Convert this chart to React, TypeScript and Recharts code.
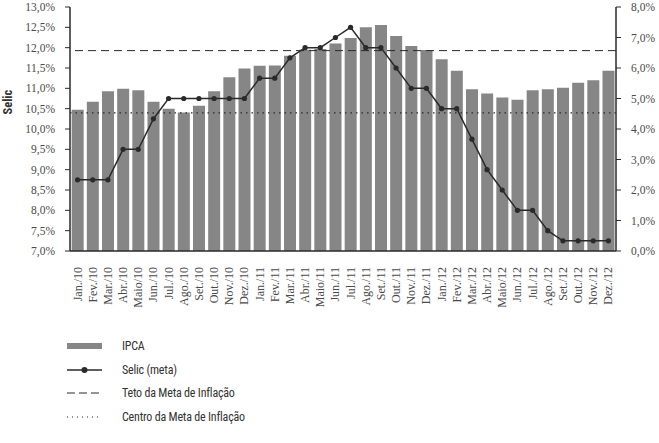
import React from 'react';
import {
  ComposedChart, Bar, Line, XAxis, YAxis, ReferenceLine, Label,
} from 'recharts';

const meses = [
  'Jan./10', 'Fev./10', 'Mar./10', 'Abr./10', 'Maio/10', 'Jun./10', 'Jul./10', 'Ago./10', 'Set./10', 'Out./10', 'Nov./10', 'Dez./10',
  'Jan./11', 'Fev./11', 'Mar./11', 'Abr./11', 'Maio/11', 'Jun./11', 'Jul./11', 'Ago./11', 'Set./11', 'Out./11', 'Nov./11', 'Dez./11',
  'Jan./12', 'Fev./12', 'Mar./12', 'Abr./12', 'Maio/12', 'Jun./12', 'Jul./12', 'Ago./12', 'Set./12', 'Out./12', 'Nov./12', 'Dez./12',
];

// IPCA acumulado 12 meses (%), eixo direito
const ipca = [
  4.63, 4.89, 5.24, 5.32, 5.27, 4.89, 4.66, 4.54, 4.76, 5.24, 5.70, 5.98,
  6.07, 6.08, 6.40, 6.60, 6.62, 6.80, 6.98, 7.34, 7.41, 7.05, 6.72, 6.59,
  6.29, 5.91, 5.30, 5.16, 5.03, 4.96, 5.27, 5.30, 5.35, 5.52, 5.60, 5.91,
];

// Selic meta (%), eixo esquerdo
const selic = [
  8.75, 8.75, 8.75, 9.5, 9.5, 10.25, 10.75, 10.75, 10.75, 10.75, 10.75, 10.75,
  11.25, 11.25, 11.75, 12, 12, 12.25, 12.5, 12, 12, 11.5, 11, 11,
  10.5, 10.5, 9.75, 9, 8.5, 8, 8, 7.5, 7.25, 7.25, 7.25, 7.25,
];

// metas de inflação, lidas no eixo direito
const tetoMeta = 6.57;
const centroMeta = 4.53;

const selicTicks = [7, 7.5, 8, 8.5, 9, 9.5, 10, 10.5, 11, 11.5, 12, 12.5, 13];
const ipcaTicks = [0, 1, 2, 3, 4, 5, 6, 7, 8];

const data = meses.map((mes, i) => ({ mes, ipca: ipca[i], selic: selic[i] }));

const SERIF = "Liberation Serif, Times New Roman, DejaVu Serif, serif";
const NARROW = "Liberation Sans Narrow, Arial Narrow, Roboto Condensed, Roboto, sans-serif";
const BAR = '#868686';
const INK = '#2a2a2a';
const TXT = '#4a4a4a';

const pct = (v: number) => v.toFixed(1).replace('.', ',') + '%';

const MesTick = ({ x, y, payload }: any) => (
  <g transform={`translate(${x},${y})`}>
    <text transform="rotate(-90)" textAnchor="end" x={-8} dy={4}
      style={{ fontFamily: SERIF, fontSize: 12 }} fill={TXT}>
      {payload.value}
    </text>
  </g>
);

const PctTick = ({ x, y, payload, anchor }: any) => (
  <text x={x} y={y} dy={4} textAnchor={anchor}
    style={{ fontFamily: SERIF, fontSize: 11.5 }} fill={TXT}>
    {pct(payload.value)}
  </text>
);

const legendItems = [
  { key: 'bar', label: 'IPCA' },
  { key: 'line', label: 'Selic (meta)' },
  { key: 'dash', label: 'Teto da Meta de Inflação' },
  { key: 'dot', label: 'Centro da Meta de Inflação' },
];

function Swatch({ kind }: { kind: string }) {
  return (
    <svg width={36} height={12} style={{ display: 'block' }}>
      {kind === 'bar' && <rect x={0} y={3} width={35} height={6} fill={BAR} />}
      {kind === 'line' && (
        <g>
          <line x1={0} x2={35} y1={6} y2={6} stroke={INK} strokeWidth={1.5} />
          <circle cx={17.5} cy={6} r={3} fill={INK} />
        </g>
      )}
      {kind === 'dash' && <line x1={0} x2={35} y1={6} y2={6} stroke={INK} strokeWidth={1} strokeDasharray="8 4" />}
      {kind === 'dot' && <line x1={0} x2={35} y1={6} y2={6} stroke={INK} strokeWidth={1} strokeDasharray="1 4" />}
    </svg>
  );
}

export default function App() {
  return (
    <div style={{ position: 'absolute', left: 0, top: 0, width: 659, height: 443, background: '#fff' }}>
      <ComposedChart width={659} height={443} data={data}
        margin={{ top: 7, right: 0, left: 0, bottom: 122 }} barCategoryGap="11%">
        <XAxis dataKey="mes" interval={0} height={70}
          tick={<MesTick />} tickLine={false}
          axisLine={{ stroke: INK, strokeWidth: 1.5 }} />
        <YAxis yAxisId="selic" orientation="left" width={70}
          domain={[7, 13]} ticks={selicTicks} interval={0}
          tick={<PctTick anchor="end" />}
          tickSize={5} tickMargin={10}
          tickLine={{ stroke: INK }} axisLine={{ stroke: INK, strokeWidth: 1.5 }}>
          <Label content={({ viewBox }: any) => {
            const lx = viewBox.x + 12;
            const ly = viewBox.y + viewBox.height * 0.39;
            return (
              <text x={lx} y={ly} transform={`rotate(-90, ${lx}, ${ly})`}
                textAnchor="middle" fontWeight="bold" fill="#333"
                style={{ fontFamily: NARROW, fontSize: 12.5 }}>
                Selic
              </text>
            );
          }} />
        </YAxis>
        <YAxis yAxisId="ipca" orientation="right" width={43}
          domain={[0, 8]} ticks={ipcaTicks} interval={0}
          tick={<PctTick anchor="start" />}
          tickSize={5} tickMargin={10}
          tickLine={{ stroke: INK }} axisLine={{ stroke: INK, strokeWidth: 1.5 }} />
        <Bar yAxisId="ipca" dataKey="ipca" fill={BAR} isAnimationActive={false} />
        <ReferenceLine yAxisId="ipca" y={tetoMeta} stroke={INK} strokeWidth={1} strokeDasharray="8 5" />
        <ReferenceLine yAxisId="ipca" y={centroMeta} stroke={INK} strokeWidth={1.2} strokeDasharray="1.5 4" />
        <Line yAxisId="selic" dataKey="selic" type="linear" stroke={INK} strokeWidth={1.5}
          dot={{ r: 2.6, fill: INK, stroke: INK, strokeWidth: 0 }} isAnimationActive={false} />
      </ComposedChart>

      <div style={{ position: 'absolute', left: 67, top: 334, fontFamily: NARROW, fontSize: 12, letterSpacing: -0.2, color: '#333' }}>
        {legendItems.map(it => (
          <div key={it.key} style={{ display: 'flex', alignItems: 'center', height: 23.7 }}>
            <Swatch kind={it.key} />
            <span style={{ marginLeft: 19 }}>{it.label}</span>
          </div>
        ))}
      </div>
    </div>
  );
}
